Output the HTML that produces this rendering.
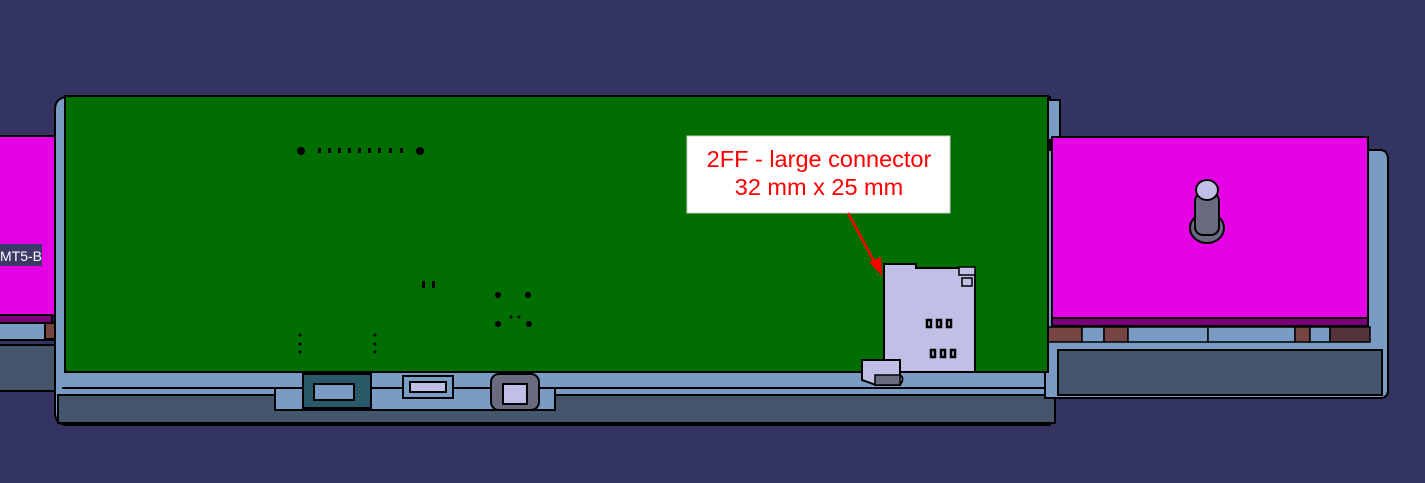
<!DOCTYPE html>
<html><head><style>html,body{margin:0;padding:0;background:#343463;}svg{display:block}</style></head>
<body>
<svg width="1425" height="483" viewBox="0 0 1425 483" xmlns="http://www.w3.org/2000/svg">
<rect width="1425" height="483" fill="#343463"/>
<g stroke="#000" stroke-width="2">
<!-- left side piece -->
<rect x="-5" y="322" width="70" height="18" fill="#7a9cc4"/>
<rect x="-5" y="345" width="62" height="46" fill="#43566c"/>
<rect x="-5" y="136" width="62" height="180" fill="#e600e6"/>
<rect x="-5" y="315" width="57" height="8" fill="#7a007a"/>
<rect x="45" y="323" width="20" height="16" fill="#774444"/>
<!-- main housing -->
<path d="M55,110 Q55,97 68,97 L1050,97 L1050,425 L68,425 Q55,425 55,412 Z" fill="#7a9cc4"/>
<rect x="58" y="395" width="997" height="28" fill="#43566c"/>
<rect x="275" y="388" width="280" height="22" fill="#7a9cc4"/>
<rect x="60" y="370" width="990" height="18" fill="#7a9cc4" stroke="none"/>
<path d="M62,388 L1050,388" fill="none"/>
<!-- right housing -->
<path d="M1048,100 L1060,100 L1060,140 L1048,140 Z" fill="#7a9cc4"/>
<path d="M1045,150 L1380,150 Q1388,150 1388,160 L1388,390 Q1388,398 1380,398 L1045,398 Z" fill="#7a9cc4"/>
<rect x="1058" y="350" width="324" height="45" fill="#43566c"/>
<rect x="1052" y="137" width="316" height="182" fill="#e600e6"/>
<rect x="1052" y="318" width="316" height="8" fill="#7a007a"/>
<g stroke-width="1.5">
<rect x="1047" y="327" width="35" height="15" fill="#774444"/>
<rect x="1082" y="327" width="22" height="15" fill="#7a9cc4"/>
<rect x="1104" y="327" width="24" height="15" fill="#774444"/>
<rect x="1128" y="327" width="80" height="15" fill="#7a9cc4"/>
<rect x="1208" y="327" width="87" height="15" fill="#7a9cc4"/>
<rect x="1295" y="327" width="15" height="15" fill="#774444"/>
<rect x="1310" y="327" width="20" height="15" fill="#7a9cc4"/>
<rect x="1330" y="327" width="40" height="15" fill="#55333a"/>
</g>
<!-- PCB -->
<rect x="65" y="96" width="983" height="276" fill="#006e00"/>
<!-- bottom connectors -->
<rect x="303" y="374" width="68" height="34" fill="#2a5a6a"/>
<rect x="314" y="384" width="40" height="16" fill="#7a9cc4"/>
<rect x="403" y="376" width="50" height="22" fill="#7a9cc4"/>
<rect x="410" y="382" width="36" height="10" fill="#c0c0e6"/>
<rect x="491" y="374" width="48" height="36" rx="8" fill="#6a6a80"/>
<rect x="503" y="384" width="24" height="20" fill="#c0c0e6"/>
<!-- SIM connector -->
<path d="M884,264 L916,264 L916,268 L960,268 L975,270 L975,372 L884,372 Z" fill="#c0c0e6"/>
<rect x="959" y="267" width="16" height="8" fill="#c0c0e6" stroke-width="1.5"/>
<rect x="962" y="278" width="10" height="8" fill="#c0c0e6" stroke-width="1.5"/>
<path d="M862,360 L900,360 L900,375 Q905,378 900,385 L876,385 L862,380 Z" fill="#c0c0e6"/>
<rect x="875" y="375" width="25" height="10" fill="#6a6a80" stroke-width="1.5"/>
<!-- pin on right -->
<ellipse cx="1207" cy="228" rx="17" ry="15" fill="#6a6a80"/>
<rect x="1195" y="193" width="24" height="42" rx="8" fill="#6a6a80"/>
<ellipse cx="1207" cy="190" rx="11" ry="10" fill="#c0c0e6"/>
</g>
<g fill="none" stroke="#000" stroke-width="2.5">
<rect x="927" y="320" width="4" height="7"/><rect x="937" y="320" width="4" height="7"/><rect x="947" y="320" width="4" height="7"/>
<rect x="931" y="350" width="4" height="7"/><rect x="941" y="350" width="4" height="7"/><rect x="951" y="350" width="4" height="7"/>
</g>
<!-- PCB details -->
<g fill="#000">
<circle cx="301" cy="151" r="4"/><circle cx="420" cy="151" r="4"/>
<rect x="318" y="148" width="3" height="5"/><rect x="328" y="148" width="3" height="5"/><rect x="338" y="148" width="3" height="5"/><rect x="348" y="148" width="3" height="5"/><rect x="358" y="148" width="3" height="5"/><rect x="368" y="148" width="3" height="5"/><rect x="378" y="148" width="3" height="5"/><rect x="389" y="148" width="3" height="5"/><rect x="400" y="148" width="3" height="5"/>
<rect x="422" y="281" width="3" height="7"/><rect x="432" y="281" width="3" height="7"/>
<circle cx="498" cy="295" r="3"/><circle cx="528" cy="295" r="3"/><circle cx="498" cy="324" r="3"/><circle cx="529" cy="324" r="3"/>
<circle cx="511" cy="317" r="1.5"/><circle cx="519" cy="317" r="1.5"/>
<circle cx="300" cy="335" r="1.5"/><circle cx="300" cy="344" r="1.5"/><circle cx="300" cy="352" r="1.5"/>
<circle cx="375" cy="335" r="1.5"/><circle cx="375" cy="344" r="1.5"/><circle cx="375" cy="352" r="1.5"/>
</g>
<!-- label -->
<rect x="0" y="244" width="42" height="22" fill="#3a3a66"/>
<text x="0" y="261" font-family="Liberation Sans, sans-serif" font-size="14" fill="#fff">MT5-B</text>
<!-- annotation -->
<rect x="687" y="136" width="263" height="77" fill="#fff" stroke="#ccc"/>
<text x="819" y="167" text-anchor="middle" font-family="Liberation Sans, sans-serif" font-size="23.5" fill="#ff0000">2FF - large connector</text>
<text x="819" y="195" text-anchor="middle" font-family="Liberation Sans, sans-serif" font-size="23.5" fill="#ff0000">32 mm x 25 mm</text>
<line x1="848" y1="213" x2="876" y2="265" stroke="#ff0000" stroke-width="2.5"/>
<polygon points="882,276 869,262 881,257" fill="#ff0000"/>
</svg>
</body></html>
